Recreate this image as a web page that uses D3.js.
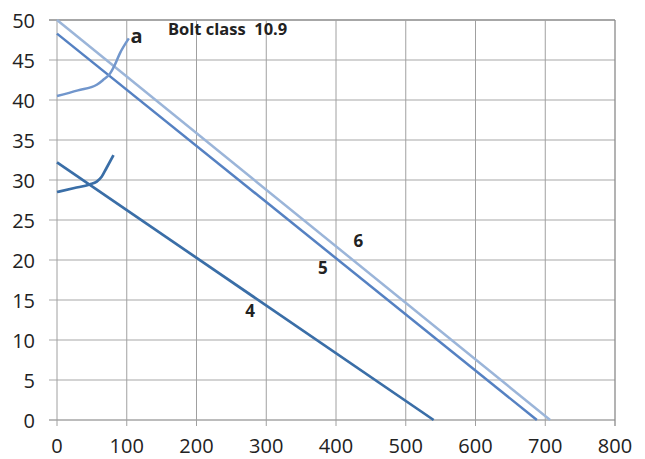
<!DOCTYPE html>
<html><head><meta charset="utf-8">
<script src="https://cdn.jsdelivr.net/npm/d3@7/dist/d3.min.js"></script>
<style>body{margin:0;background:#fff}svg{display:block}</style>
</head><body>
<svg id="c" width="645" height="459"></svg>
<script>
const xTicks = [0,100,200,300,400,500,600,700,800];
const yTicks = [0,5,10,15,20,25,30,35,40,45,50];
const line6 = [[0,50],[707,0]];
const line5 = [[0,48.3],[688,0]];
const line4 = [[0,32.2],[540,0]];
const curveA = [[0,40.5],[30,41.2],[57,41.9],[66,42.5],[76,43.3],[83,44.4],[90,45.8],[103,47.7]];
const curveB = [[0,28.5],[25,29.0],[47,29.45],[57,29.8],[64,30.4],[71,31.5],[81,33.1]];
const labels = [{t:"4",x:277,y:12.9},{t:"5",x:381,y:18.25},{t:"6",x:432,y:21.6},{t:"a",x:114,y:47.1}];
const title = "Bolt class  10.9";

const svg = d3.select("#c");
const x = d3.scaleLinear().domain([0,800]).range([57,615]);
const y = d3.scaleLinear().domain([0,50]).range([420,20]);
const font = "'Open Sans', sans-serif";

// horizontal gridlines
svg.append("g").selectAll("line").data(yTicks.filter(d=>d!==50)).join("line")
  .attr("x1",49).attr("x2",615).attr("y1",d=>y(d)).attr("y2",d=>y(d))
  .attr("stroke",d=>d===0?"#a6a6a6":"#c4c4c4").attr("stroke-width",1.6);
// top border
svg.append("line").attr("x1",49).attr("x2",615).attr("y1",y(50)).attr("y2",y(50))
  .attr("stroke","#8a8a8a").attr("stroke-width",1.3);
// vertical gridlines
svg.append("g").selectAll("line").data(xTicks).join("line")
  .attr("x1",d=>x(d)).attr("x2",d=>x(d)).attr("y1",y(50)).attr("y2",426)
  .attr("stroke",d=>d===800?"#8a8a8a":"#a0a0a0").attr("stroke-width",d=>d===800?1.3:1);

// tick labels
svg.append("g").selectAll("text").data(yTicks).join("text")
  .attr("x",35).attr("y",d=>y(d)+8).attr("text-anchor","end")
  .attr("font-family",font).attr("font-size",20).attr("fill","#222").text(d=>d);
svg.append("g").selectAll("text").data(xTicks).join("text")
  .attr("x",d=>x(d)).attr("y",452.5).attr("text-anchor","middle")
  .attr("font-family",font).attr("font-size",20).attr("fill","#222").text(d=>d);

const line = d3.line().x(d=>x(d[0])).y(d=>y(d[1]));
const curve = d3.line().x(d=>x(d[0])).y(d=>y(d[1])).curve(d3.curveMonotoneX);
svg.append("path").attr("d",line(line6)).attr("fill","none").attr("stroke","#9bb5d9").attr("stroke-width",2.5);
svg.append("path").attr("d",line(line5)).attr("fill","none").attr("stroke","#5581c2").attr("stroke-width",2.5);
svg.append("path").attr("d",line(line4)).attr("fill","none").attr("stroke","#3a6ea7").attr("stroke-width",2.7);
svg.append("path").attr("d",curve(curveA)).attr("fill","none").attr("stroke","#7196cc").attr("stroke-width",2.5);
svg.append("path").attr("d",curve(curveB)).attr("fill","none").attr("stroke","#3a6ea7").attr("stroke-width",2.7);

svg.append("g").selectAll("text").data(labels).join("text")
  .attr("x",d=>x(d.x)).attr("y",d=>y(d.y)).attr("text-anchor","middle")
  .attr("font-family",font).attr("font-weight","bold").attr("font-size",d=>d.t==="a"?20:17)
  .attr("fill","#222").text(d=>d.t);
svg.append("text").attr("x",168).attr("y",35).attr("font-family",font).attr("font-weight","bold")
  .attr("font-size",16.5).attr("fill","#222").attr("xml:space","preserve").style("white-space","pre").text(title);
</script>
</body></html>
